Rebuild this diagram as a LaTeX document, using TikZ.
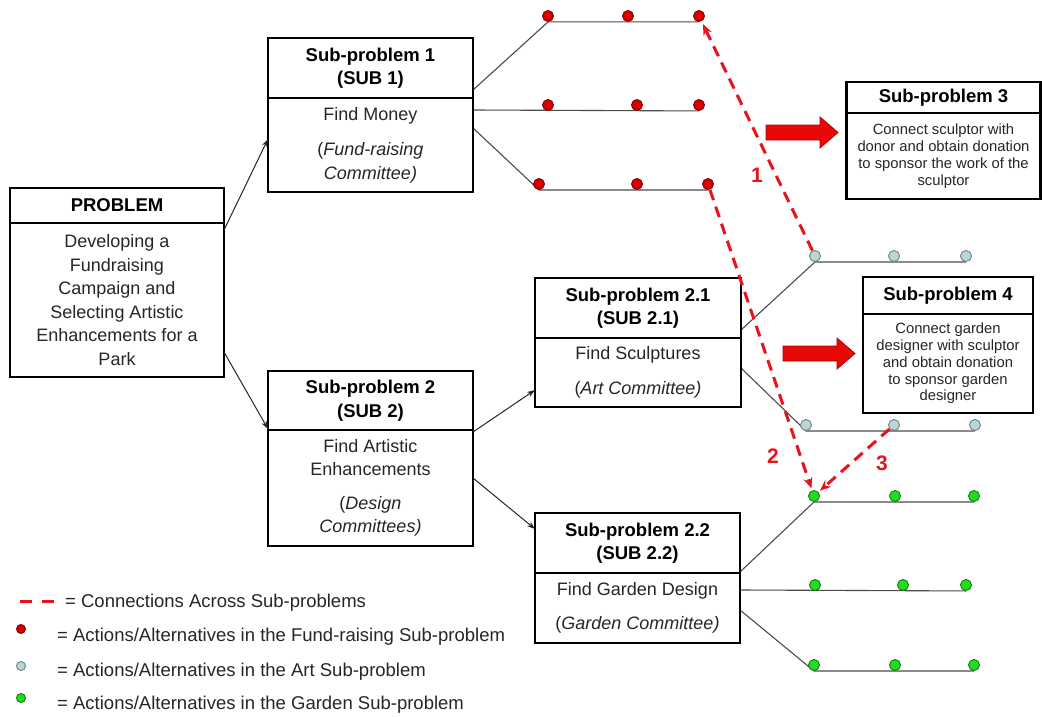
\documentclass[tikz,border=0pt]{standalone}
\usepackage{fontspec}
\setmainfont{Liberation Sans}
\usetikzlibrary{arrows.meta}
\pgfdeclarelayer{paper}
\pgfdeclarelayer{lines}
\pgfsetlayers{paper,lines,main}
\definecolor{dotred}{HTML}{D60000}
\definecolor{dotrededge}{HTML}{8A0000}
\definecolor{dotblue}{HTML}{BBD4D8}
\definecolor{dotblueedge}{HTML}{6A8286}
\definecolor{dotgreen}{HTML}{20DD20}
\definecolor{dotgreenedge}{HTML}{0B800B}
\definecolor{dashred}{HTML}{E8141C}
\definecolor{blockred}{HTML}{E80808}
\definecolor{blockrededge}{HTML}{B00000}
\newcommand\ttlfont{\fontsize{18.5}{23.5}\selectfont\bfseries}
\newcommand\bdyfont{\fontsize{18}{23.5}\selectfont}
\newcommand\smlfont{\fontsize{14.8}{16.8}\selectfont}
\newcommand\lgdfont{\fontsize{18.5}{22}\selectfont}
\tikzset{
  ttl/.style={draw=black, line width=2.6pt, fill=white, inner sep=0pt, align=center, font=\ttlfont},
  bdy/.style={draw=black, line width=2.6pt, fill=white, inner sep=0pt, align=center, font=\bdyfont, text=black!85},
  sml/.style={draw=black, line width=2.6pt, fill=white, inner sep=0pt, align=center, font=\smlfont, text=black!85},
  conn/.style={draw=black!85, line width=1pt, -{Stealth[length=8pt,width=5.5pt]}},
  branch/.style={draw=black!70, line width=1.1pt},
  rdot/.style={circle, draw=dotrededge, fill=dotred, line width=0.9pt, minimum size=11pt, inner sep=0pt},
  bdot/.style={circle, draw=dotblueedge, fill=dotblue, line width=0.9pt, minimum size=11pt, inner sep=0pt},
  gdot/.style={circle, draw=dotgreenedge, fill=dotgreen, line width=0.9pt, minimum size=11pt, inner sep=0pt},
  dashr/.style={draw=dashred, line width=3pt, dash pattern=on 11pt off 7pt},
  dtip/.style={-{Stealth[length=11pt,width=9pt]}},
  numlbl/.style={text=dashred, font=\fontsize{21}{21}\selectfont\bfseries, inner sep=0pt},
  blockarrow/.style={fill=blockred, draw=blockrededge, line width=0.8pt},
  lgd/.style={font=\lgdfont, text=black!85, inner sep=0pt, anchor=base west}
}
\begin{document}
\begin{tikzpicture}[x=1pt,y=-1pt]
\useasboundingbox (0,0) rectangle (1042,717);
\begin{pgfonlayer}{paper}
\fill[white] (0,0) rectangle (1042,717);
\end{pgfonlayer}

% ---------- boxes ----------
\node[ttl, minimum width=214, minimum height=35] (pt) at (117,205.5) {PROBLEM};
\node[bdy, minimum width=214, minimum height=154] (pb) at (117,300)
  {Developing a\\Fundraising\\Campaign and\\Selecting Artistic\\Enhancements for a\\Park};

\node[ttl, minimum width=205, minimum height=60] (s1t) at (370.5,68) {Sub-problem 1\\(SUB 1)};
\node[bdy, minimum width=205, minimum height=94] (s1b) at (370.5,145)
  {Find Money\\[12pt](\textit{Fund-raising}\\\textit{Committee)}};

\node[ttl, minimum width=205, minimum height=59] (s2t) at (370.5,400.5) {Sub-problem 2\\(SUB 2)};
\node[bdy, minimum width=205, minimum height=116] (s2b) at (370.5,488)
  {Find Artistic\\Enhancements\\[10pt](\textit{Design}\\\textit{Committees)}};

\node[ttl, minimum width=206, minimum height=60] (s21t) at (638,308) {Sub-problem 2.1\\(SUB 2.1)};
\node[bdy, minimum width=206, minimum height=69] (s21b) at (638,372.5)
  {Find Sculptures\\[12pt](\textit{Art Committee)}};

\node[ttl, minimum width=205, minimum height=60] (s22t) at (637.5,543) {Sub-problem 2.2\\(SUB 2.2)};
\node[bdy, minimum width=205, minimum height=70] (s22b) at (637.5,608)
  {Find Garden Design\\[10.5pt](\textit{Garden Committee)}};

\node[ttl, minimum width=194, minimum height=31] (s3t) at (943.5,97.5) {Sub-problem 3};
\node[sml, minimum width=194, minimum height=86] (s3b) at (943.5,156)
  {Connect sculptor with\\donor and obtain donation\\to sponsor the work of the\\sculptor};

\node[ttl, minimum width=170, minimum height=37] (s4t) at (948,295.5) {Sub-problem 4};
\node[sml, minimum width=170, minimum height=99] (s4b) at (948,363.5)
  {Connect garden\\designer with sculptor\\and obtain donation\\to sponsor garden\\designer};

% ---------- block arrows ----------
\draw[blockarrow] (766,125) -- (820,125) -- (820,117) -- (838,132.5) -- (820,148) -- (820,140) -- (766,140) -- cycle;
\draw[blockarrow] (783,346) -- (837,346) -- (837,338) -- (855,353.5) -- (837,369) -- (837,361) -- (783,361) -- cycle;

% ---------- tree connectors ----------
\coordinate (pOut1) at (224,230);
\coordinate (s1In) at (268,139);
\coordinate (pOut2) at (224,352);
\coordinate (s2In) at (268,429);
\coordinate (s2Out1) at (473,432);
\coordinate (s21In) at (535,390);
\coordinate (s2Out2) at (473,478);
\coordinate (s22In) at (535,529);
\draw[conn] (pOut1) -- (s1In);
\draw[conn] (pOut2) -- (s2In);
\draw[conn] (s2Out1) -- (s21In);
\draw[conn] (s2Out2) -- (s22In);

% ---------- dots ----------
\node[rdot] (r11) at (548,16) {};
\node[rdot] (r12) at (628,16) {};
\node[rdot] (r13) at (699,16) {};
\node[rdot] (r21) at (548,105) {};
\node[rdot] (r22) at (637,105) {};
\node[rdot] (r23) at (699,105) {};
\node[rdot] (r31) at (539,184) {};
\node[rdot] (r32) at (637,184) {};
\node[rdot] (r33) at (708,184) {};

\node[bdot] (b11) at (815,256) {};
\node[bdot] (b12) at (894,256) {};
\node[bdot] (b13) at (966,256) {};
\node[bdot] (b21) at (806,425) {};
\node[bdot] (b22) at (894,425) {};
\node[bdot] (b23) at (975,425) {};

\node[gdot] (g11) at (814,496) {};
\node[gdot] (g12) at (895,496) {};
\node[gdot] (g13) at (974,496) {};
\node[gdot] (g21) at (815,585) {};
\node[gdot] (g22) at (903,585) {};
\node[gdot] (g23) at (966,585) {};
\node[gdot] (g31) at (814,665) {};
\node[gdot] (g32) at (895,665) {};
\node[gdot] (g33) at (974,665) {};

% ---------- branches (behind the dots) ----------
\coordinate (s1o1) at (473,90);
\coordinate (s1o2) at (473,110);
\coordinate (s1o3) at (473,128);
\coordinate (s21o1) at (741,330);
\coordinate (s21o2) at (741,368);
\coordinate (s22o1) at (740,572);
\coordinate (s22o2) at (740,590);
\coordinate (s22o3) at (740,610);
\begin{pgfonlayer}{lines}
\draw[branch] (s1o1) -- (r11.south) -- (r13.south);
\draw[branch] (s1o2) -- (r23.south);
\draw[branch] (s1o3) -- (r31.south) -- (r33.south);
\draw[branch] (s21o1) -- (b11.south) -- (b13.south);
\draw[branch] (s21o2) -- (b21.south) -- (b23.south);
\draw[branch] (s22o1) -- (g11.south) -- (g13.south);
\draw[branch] (s22o2) -- (g23.south);
\draw[branch] (s22o3) -- (g31.south) -- (g33.south);
\end{pgfonlayer}

% ---------- cross connections ----------
\draw[dashr, dtip, shorten >=3pt] (b11) -- (r13);
\draw[dashr, dtip, shorten >=2pt] (r33) -- (g11);
\draw[dashr, dtip, shorten >=2pt] (b22) -- (g11);
\node[numlbl] (n1) at (757,175) {1};
\node[numlbl] (n2) at (773,456) {2};
\node[numlbl] (n3) at (882,463) {3};

% ---------- legend ----------
\coordinate (lgA) at (20,601);
\coordinate (lgB) at (54,601);
\draw[dashr, dash pattern=on 12pt off 10pt] (lgA) -- (lgB);
\node[lgd] (lt1) at (65,607) {= Connections Across Sub-problems};
\node[rdot, minimum size=9pt] (ld1) at (21,629) {};
\node[lgd] (lt2) at (57,641) {= Actions/Alternatives in the Fund-raising Sub-problem};
\node[bdot, minimum size=9pt] (ld2) at (21,666) {};
\node[lgd] (lt3) at (57,676) {= Actions/Alternatives in the Art Sub-problem};
\node[gdot, minimum size=9pt] (ld3) at (21,698) {};
\node[lgd] (lt4) at (57,709) {= Actions/Alternatives in the Garden Sub-problem};
\end{tikzpicture}
\end{document}
